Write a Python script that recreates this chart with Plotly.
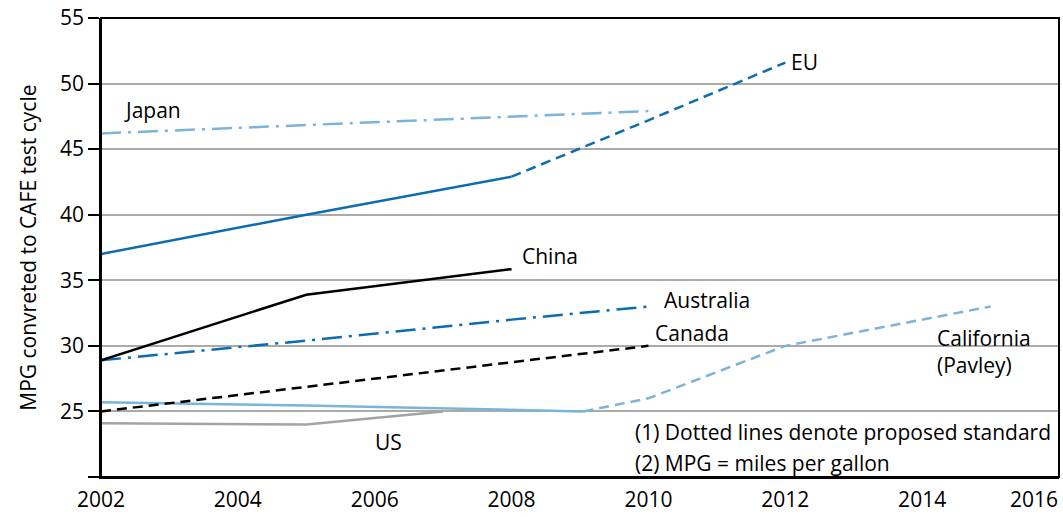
import plotly.graph_objects as go

# values
japan_years = [2002, 2010]
japan_mpg = [46.2, 47.9]

eu_years = [2002, 2005, 2008]
eu_mpg = [37.0, 40.0, 42.9]
eu_prop_years = [2008, 2010, 2012]
eu_prop_mpg = [42.9, 47.2, 51.6]

china_years = [2002, 2005, 2008]
china_mpg = [28.9, 33.9, 35.85]

australia_years = [2002, 2005, 2008, 2010]
australia_mpg = [28.9, 30.4, 32.0, 33.0]

canada_years = [2002, 2010]
canada_mpg = [25.0, 30.0]

california_years = [2002, 2005, 2009.05]
california_mpg = [25.7, 25.45, 25.0]
california_prop_years = [2009.05, 2010, 2012, 2015]
california_prop_mpg = [25.0, 26.0, 30.0, 33.0]

us_years = [2002, 2005, 2007]
us_mpg = [24.1, 24.0, 25.0]

x_ticks = [2002, 2004, 2006, 2008, 2010, 2012, 2014]
y_ticks = [20, 25, 30, 35, 40, 45, 50, 55]
y_ticktext = ['', '25', '30', '35', '40', '45', '50', '55']

dark_blue = '#0b6db0'
light_blue = '#7bb3da'
dash_dot = '20px,7px,3px,7px'
dashed = '10px,6px'
font = 'Open Sans'
size = 21

fig = go.Figure()


def add_line(x, y, color, dash='solid'):
    fig.add_trace(go.Scatter(x=x, y=y, mode='lines',
                             line=dict(color=color, width=2.5, dash=dash),
                             showlegend=False, hoverinfo='skip'))


add_line(us_years, us_mpg, '#a3a3a3')
add_line(california_years, california_mpg, light_blue)
add_line(california_prop_years, california_prop_mpg, light_blue, dashed)
add_line(canada_years, canada_mpg, 'black', dashed)
add_line(australia_years, australia_mpg, dark_blue, dash_dot)
add_line(china_years, china_mpg, 'black')
add_line(eu_years, eu_mpg, dark_blue)
add_line(eu_prop_years, eu_prop_mpg, dark_blue, dashed)
add_line(japan_years, japan_mpg, light_blue, dash_dot)

labels = [
    ('Japan', 2002.31, 48.0),
    ('EU', 2012.06, 51.64),
    ('China', 2008.13, 36.85),
    ('Australia', 2010.2, 33.5),
    ('Canada', 2010.06, 30.97),
    ('California<br>(Pavley)', 2014.19, 29.6),
    ('US', 2005.97, 22.66),
    ('(1) Dotted lines denote proposed standard', 2009.77, 23.4),
    ('(2) MPG = miles per gallon', 2009.77, 21.05),
]
for text, x, y in labels:
    fig.add_annotation(x=x, y=y, text=text, showarrow=False,
                       xanchor='left', yanchor='middle', align='left',
                       font=dict(family=font, size=size, color='black'))

# last x tick label sits inside the page edge, like the original
fig.add_annotation(x=1.001, y=0, xref='paper', yref='paper', text='2016',
                   showarrow=False, xanchor='right', yanchor='top', yshift=-6,
                   font=dict(family=font, size=size, color='black'))

fig.add_annotation(x=-0.077, y=0.5, xref='paper', yref='paper',
                   text='MPG convreted to CAFE test cycle', textangle=-90,
                   showarrow=False, xanchor='center', yanchor='middle',
                   font=dict(family=font, size=size, color='black'))

# frame round the plot area
fig.add_shape(type='rect', xref='paper', yref='paper', x0=0, x1=1, y0=0, y1=1,
              line=dict(color='black', width=2), layer='above')

fig.update_layout(
    width=1063, height=517,
    margin=dict(l=101, r=4, t=18, b=40),
    plot_bgcolor='white', paper_bgcolor='white',
    font=dict(family=font, size=size, color='black'),
    xaxis=dict(range=[2002, 2016], tickvals=x_ticks, showgrid=False,
               showline=True, linecolor='black', linewidth=1.5,
               ticks='', zeroline=False, automargin=False,
               ticklabelstandoff=3),
    yaxis=dict(range=[20, 55], tickvals=y_ticks, ticktext=y_ticktext,
               showgrid=True, gridcolor='#aaaaaa', gridwidth=1.5,
               showline=True, linecolor='black', linewidth=1.5,
               ticks='outside', ticklen=11, tickcolor='black', tickwidth=1.5,
               zeroline=False, automargin=False, ticklabeloverflow='allow'),
)

# drop the default page margin so the figure fills the window
fig.write_html('out.html', config={'displayModeBar': False},
               post_script="document.body.style.margin='0px';")
